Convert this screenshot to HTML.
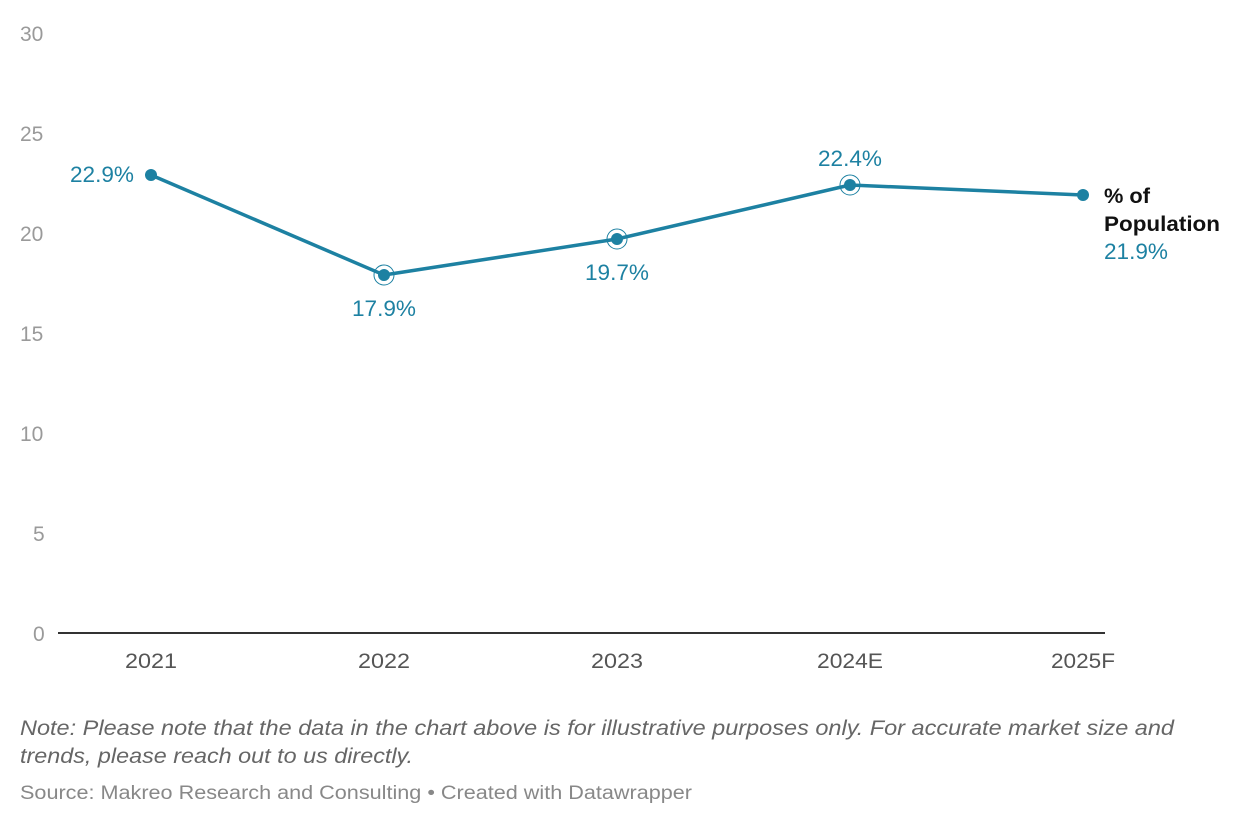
<!DOCTYPE html>
<html><head><meta charset="utf-8"><style>
body{margin:0;background:#fff;width:1240px;height:826px;overflow:hidden;font-family:"Liberation Sans",sans-serif}
</style></head><body>
<svg width="1240" height="826" xmlns="http://www.w3.org/2000/svg" style="position:absolute;left:0;top:0">
<g font-family="Liberation Sans, sans-serif" font-size="21" fill="#9a9a9a">
<text x="20" y="41">30</text>
<text x="20" y="141">25</text>
<text x="20" y="241">20</text>
<text x="20" y="341">15</text>
<text x="20" y="441">10</text>
<text x="33" y="541">5</text>
<text x="33" y="641">0</text>
</g>
<line x1="58" y1="633" x2="1105" y2="633" stroke="#333" stroke-width="2"/>
<g font-family="Liberation Sans, sans-serif" font-size="21" fill="#555" text-anchor="middle">
<text x="151" y="668" textLength="52" lengthAdjust="spacingAndGlyphs">2021</text>
<text x="384" y="668" textLength="52" lengthAdjust="spacingAndGlyphs">2022</text>
<text x="617" y="668" textLength="52" lengthAdjust="spacingAndGlyphs">2023</text>
<text x="850" y="668" textLength="66" lengthAdjust="spacingAndGlyphs">2024E</text>
<text x="1083" y="668" textLength="64" lengthAdjust="spacingAndGlyphs">2025F</text>
</g>
<polyline points="151,175 384,275 617,239 850,185 1083,195" fill="none" stroke="#1d81a2" stroke-width="3.5" stroke-linejoin="round"/>
<g fill="#1d81a2">
<circle cx="151" cy="175" r="6"/>
<circle cx="384" cy="275" r="6"/><circle cx="384" cy="275" r="10" fill="none" stroke="#1d81a2" stroke-width="1"/>
<circle cx="617" cy="239" r="6"/><circle cx="617" cy="239" r="10" fill="none" stroke="#1d81a2" stroke-width="1"/>
<circle cx="850" cy="185" r="6"/><circle cx="850" cy="185" r="10" fill="none" stroke="#1d81a2" stroke-width="1"/>
<circle cx="1083" cy="195" r="6"/>
</g>
<g font-family="Liberation Sans, sans-serif" font-size="22" fill="#1d81a2">
<text x="134" y="182" text-anchor="end" textLength="64" lengthAdjust="spacingAndGlyphs">22.9%</text>
<text x="384" y="316" text-anchor="middle" textLength="64" lengthAdjust="spacingAndGlyphs">17.9%</text>
<text x="617" y="280" text-anchor="middle" textLength="64" lengthAdjust="spacingAndGlyphs">19.7%</text>
<text x="850" y="166" text-anchor="middle" textLength="64" lengthAdjust="spacingAndGlyphs">22.4%</text>
<text x="1104" y="259" textLength="64" lengthAdjust="spacingAndGlyphs">21.9%</text>
</g>
<g font-family="Liberation Sans, sans-serif" font-size="21" font-weight="bold" fill="#111">
<text x="1104" y="203" textLength="46" lengthAdjust="spacingAndGlyphs">% of</text>
<text x="1104" y="231" textLength="116" lengthAdjust="spacingAndGlyphs">Population</text>
</g>
<g font-family="Liberation Sans, sans-serif" font-size="21" font-style="italic" fill="#666">
<text x="20" y="735" textLength="1154" lengthAdjust="spacingAndGlyphs">Note: Please note that the data in the chart above is for illustrative purposes only. For accurate market size and</text>
<text x="20" y="763" textLength="393" lengthAdjust="spacingAndGlyphs">trends, please reach out to us directly.</text>
</g>
<text x="20" y="799" font-family="Liberation Sans, sans-serif" font-size="19" fill="#888" textLength="672" lengthAdjust="spacingAndGlyphs">Source: Makreo Research and Consulting • Created with Datawrapper</text>
</svg>
</body></html>
